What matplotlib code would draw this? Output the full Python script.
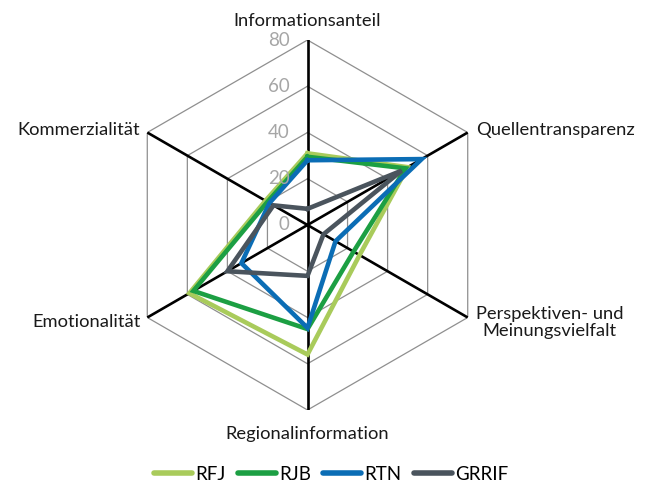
import numpy as np
import matplotlib
matplotlib.use("Agg")
import matplotlib.pyplot as plt
from matplotlib.transforms import offset_copy

categories = ['Informationsanteil', 'Quellentransparenz', 'Perspektiven- und\nMeinungsvielfalt',
              'Regionalinformation', 'Emotionalität', 'Kommerzialität']
series_names = ['RFJ', 'RJB', 'RTN', 'GRRIF']
RFJ = [31, 50, 26, 56, 59, 21]
RJB = [29.5, 49, 23, 45, 57, 20]
RTN = [28, 57, 14, 44.5, 33, 19]
GRRIF = [7, 47, 8, 22, 40, 17]
r_ticks = [0, 20, 40, 60, 80]
colors = ['#A9CB5B', '#1C9F43', '#0B6DB5', '#4A545D']

plt.rcParams['font.family'] = ['Lato', 'DejaVu Sans']

fig = plt.figure(figsize=(6.46, 4.82), dpi=100)
ax = fig.add_axes([122.5/646, (257-185)/482, 370/646, 370/482], projection='polar')
ax.set_theta_zero_location('N')
ax.set_theta_direction(-1)
ax.set_ylim(0, 80)
ax.grid(False)
ax.set_xticks([])
ax.set_yticks([])
ax.spines['polar'].set_visible(False)
ax.patch.set_visible(False)

n = len(categories)
angles = np.arange(n) * 2 * np.pi / n
closed = np.append(angles, angles[0])

# hexagonal grid
for r in r_ticks[1:]:
    ax.plot(closed, [r] * (n + 1), color='#8F8F8F', lw=0.9, zorder=1)
# spokes
for a in angles:
    ax.plot([a, a], [0, r_ticks[-1]], color='black', lw=1.9, zorder=2)

# series
for name, vals, c in zip(series_names, [RFJ, RJB, RTN, GRRIF], colors):
    v = list(vals) + [vals[0]]
    ax.plot(closed, v, color=c, lw=3.3, label=name, zorder=3, solid_joinstyle='miter')

# radial tick labels
tr = offset_copy(ax.transData, fig=fig, x=-13, y=0, units='points')
for r in r_ticks:
    ax.text(0, r, str(r), transform=tr, ha='right', va='center', color='#A6A6A6', fontsize=13.5, zorder=4)

# category labels
R = r_ticks[-1]
specs = [
    (0, 14, 'center', 'center'),
    (6, 2, 'left', 'center'),
    (6, -3.5, 'left', 'center'),
    (0, -17, 'center', 'center'),
    (-5, -3, 'right', 'center'),
    (-5, 2, 'right', 'center'),
]
for a, lab, (dx, dy, ha, va) in zip(angles, categories, specs):
    t = offset_copy(ax.transData, fig=fig, x=dx, y=dy, units='points')
    ax.text(a, R, lab, transform=t, ha=ha, va=va, fontsize=13.2, color='#1A1A1A',
            multialignment='center', linespacing=1.05)

leg = fig.legend(loc='lower center', bbox_to_anchor=(0.513, -0.025), ncol=4, frameon=False,
                 fontsize=13.5, handlelength=2.0, handletextpad=0.2, columnspacing=0.65,
                 borderaxespad=0.2)
for h in leg.get_lines():
    h.set_linewidth(4.0)
    h.set_solid_capstyle('round')

fig.savefig('out.png', dpi=100)
